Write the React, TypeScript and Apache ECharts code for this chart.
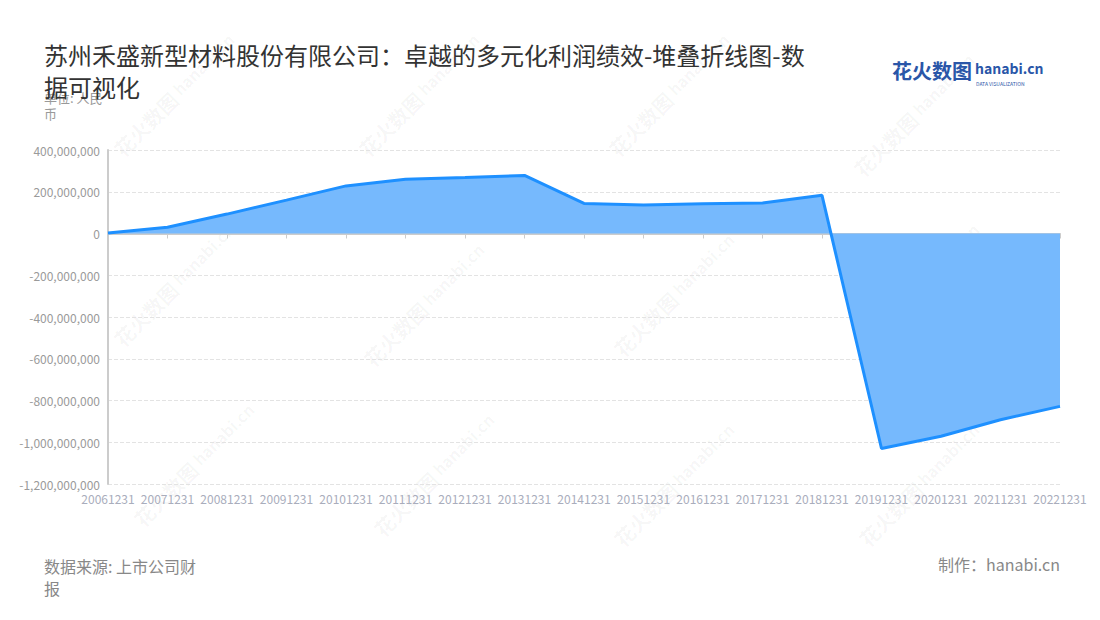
import React, { useEffect, useRef } from "react";
import * as echarts from "echarts";

const categories = [
  "20061231", "20071231", "20081231", "20091231", "20101231", "20111231",
  "20121231", "20131231", "20141231", "20151231", "20161231", "20171231",
  "20181231", "20191231", "20201231", "20211231", "20221231",
];
const profitValues = [
  2000000, 30000000, 93000000, 160000000, 228000000, 260000000,
  268000000, 278000000, 144000000, 137000000, 142000000, 146000000,
  183000000, -1030000000, -971000000, -892000000, -828000000,
];
const yTicks = { min: -1200000000, max: 400000000, interval: 200000000 };

const titleText = "苏州禾盛新型材料股份有限公司：卓越的多元化利润绩效-堆叠折线图-数据可视化";
const unitText = "单位: 人民币";
const sourceText = "数据来源: 上市公司财报";
const makerText = "制作：hanabi.cn";

const FONT = "'Noto Sans CJK SC', 'Noto Sans', sans-serif";

const watermarkSpots = [
  [160, 110], [405, 110], [655, 110], [900, 130],
  [160, 300], [410, 320], [660, 310], [905, 300],
  [180, 480], [420, 490], [660, 500], [905, 500],
];

export default function App() {
  const ref = useRef<HTMLDivElement>(null);
  useEffect(() => {
    if (!ref.current) return;
    const chart = echarts.init(ref.current, undefined, { renderer: "svg" });
    const fmt = (v: number) => v.toLocaleString("en-US");
    const watermarks: any[] = watermarkSpots.map(([x, y]) => ({
      type: "group",
      x,
      y,
      rotation: Math.PI / 4,
      silent: true,
      z: 0,
      children: [
        {
          type: "text",
          x: -60,
          y: -10,
          style: { text: "花火数图", fontSize: 20, fontWeight: "bold", fill: "rgba(0,0,0,0.045)", fontFamily: FONT },
        },
        {
          type: "text",
          x: 24,
          y: -10,
          style: { text: "hanabi.cn", fontSize: 16, fontWeight: "bold", fill: "rgba(0,0,0,0.045)", fontFamily: FONT },
        },
      ],
    }));
    chart.setOption({
      animation: false,
      backgroundColor: "#fff",
      title: {
        text: titleText,
        left: 44,
        top: 38,
        padding: 0,
        textStyle: {
          fontSize: 24,
          fontWeight: "normal",
          color: "#333",
          fontFamily: FONT,
          width: 770,
          overflow: "break",
          lineHeight: 32,
        },
      },
      grid: { left: 108, right: 40, top: 150, bottom: 136, containLabel: false },
      xAxis: {
        type: "category",
        data: categories,
        boundaryGap: false,
        axisLine: { lineStyle: { color: "#ccc", width: 2 } },
        axisTick: { show: true, lineStyle: { color: "#ccc" }, length: 5 },
        axisLabel: { color: "#a9adbc", fontSize: 12, fontFamily: FONT, interval: 0, margin: 8 },
      },
      yAxis: {
        type: "value",
        min: yTicks.min,
        max: yTicks.max,
        interval: yTicks.interval,
        axisLine: { show: true, lineStyle: { color: "#ccc", width: 2 } },
        axisTick: { show: false },
        axisLabel: { color: "#9a9a9a", fontSize: 12, fontFamily: FONT, formatter: fmt, margin: 8 },
        splitLine: { lineStyle: { color: "#e3e3e3", type: "dashed" } },
      },
      series: [
        {
          name: "利润",
          type: "line",
          stack: "total",
          data: profitValues,
          symbol: "none",
          lineStyle: { color: "#1e90ff", width: 3 },
          itemStyle: { color: "#1e90ff" },
          areaStyle: { color: "#76b9fd", opacity: 1 },
          z: 3,
        },
      ],
      graphic: [
        ...watermarks,
        {
          type: "text",
          left: 44,
          top: 89,
          style: {
            text: unitText,
            fontSize: 13,
            fill: "#999",
            fontFamily: FONT,
            width: 72,
            overflow: "break",
            lineHeight: 16,
          },
        },
        {
          type: "text",
          left: 892,
          top: 60,
          style: { text: "花火数图", fontSize: 20, fontWeight: "bold", fill: "#2a56a8", fontFamily: FONT },
        },
        {
          type: "text",
          left: 975,
          top: 61,
          style: { text: "hanabi.cn", fontSize: 14, fontWeight: "bold", fill: "#2a56a8", fontFamily: FONT },
        },
        {
          type: "text",
          left: 976,
          top: 81,
          style: { text: "DATA VISUALIZATION", fontSize: 5, fill: "#2a56a8", fontFamily: FONT },
        },
        {
          type: "text",
          left: 44,
          top: 555,
          style: {
            text: sourceText,
            fontSize: 16,
            fill: "#888",
            fontFamily: FONT,
            width: 166,
            overflow: "break",
            lineHeight: 22,
          },
        },
        {
          type: "text",
          right: 40,
          top: 556,
          style: { text: makerText, fontSize: 16, fill: "#888", fontFamily: FONT },
        },
      ],
    });
    return () => chart.dispose();
  }, []);
  return (
    <div
      ref={ref}
      style={{ position: "fixed", left: 0, top: 0, width: 1100, height: 620 }}
    />
  );
}
